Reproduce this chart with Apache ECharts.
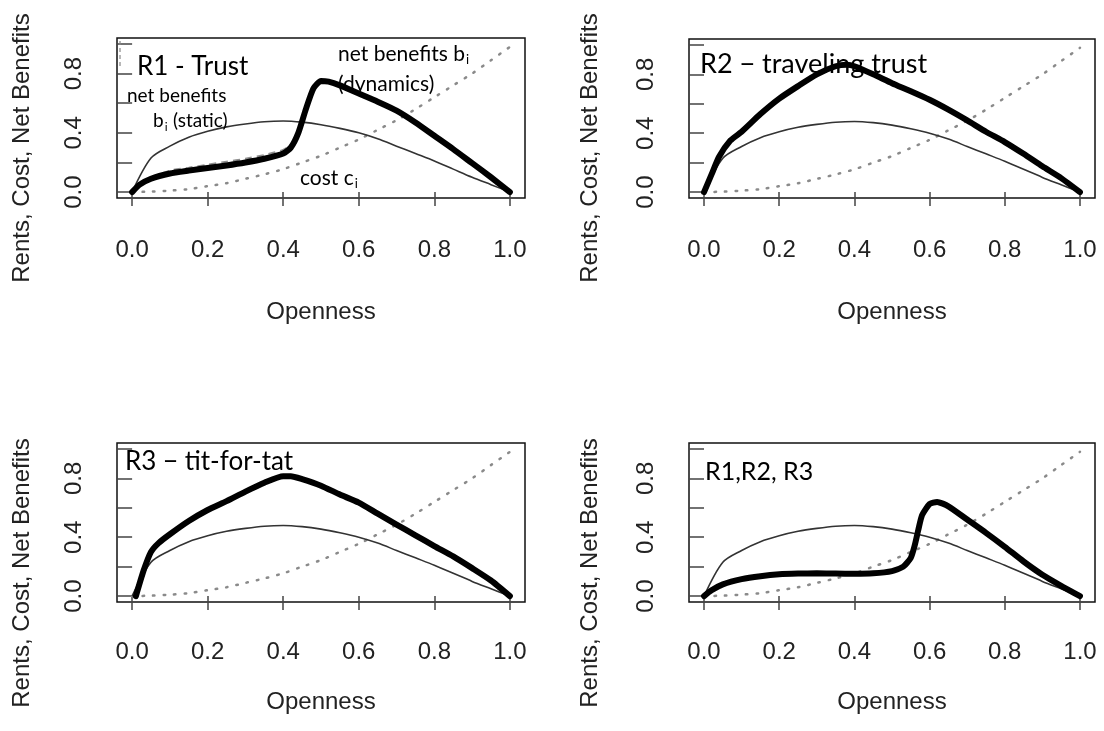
<!DOCTYPE html>
<html>
<head>
<meta charset="utf-8">
<script src="https://cdn.jsdelivr.net/npm/echarts@6/dist/echarts.min.js"></script>
<style>
  html, body { margin: 0; padding: 0; background: #ffffff; }
  #chart { width: 1104px; height: 731px; }
</style>
</head>
<body>
<div id="chart"></div>
<script>
// Openness grid shared by the static benefit and cost curves
const openness = [0, 0.05, 0.1, 0.15, 0.2, 0.25, 0.3, 0.35, 0.4, 0.45, 0.5,
                  0.55, 0.6, 0.65, 0.7, 0.75, 0.8, 0.85, 0.9, 0.95, 1.0];
// static net benefits b_i (thin solid line)
const staticBenefit = [0, 0.23, 0.31, 0.37, 0.41, 0.44, 0.46, 0.475, 0.48, 0.472, 0.455,
                       0.43, 0.40, 0.36, 0.31, 0.26, 0.21, 0.155, 0.10, 0.05, 0];
// cost c_i (dotted line)
const cost = [0, 0.003, 0.01, 0.02, 0.04, 0.06, 0.09, 0.12, 0.155, 0.2, 0.245,
              0.3, 0.355, 0.42, 0.485, 0.56, 0.64, 0.72, 0.80, 0.89, 0.98];

// R1 - Trust: dynamic net benefits
const r1X = [0, 0.02, 0.05, 0.1, 0.15, 0.2, 0.25, 0.3, 0.35, 0.4, 0.42, 0.44, 0.46, 0.48, 0.5,
             0.52, 0.55, 0.6, 0.65, 0.7, 0.75, 0.8, 0.85, 0.9, 0.95, 1.0];
const r1Y = [0, 0.05, 0.09, 0.125, 0.145, 0.163, 0.18, 0.20, 0.225, 0.26, 0.30, 0.40, 0.56, 0.70, 0.75,
             0.745, 0.72, 0.665, 0.61, 0.55, 0.47, 0.38, 0.29, 0.195, 0.10, 0];
// R1 - Trust: dashed companion curve
const r1DashX = [0.05, 0.1, 0.15, 0.2, 0.25, 0.3, 0.35, 0.4, 0.43, 0.45, 0.47, 0.49];
const r1DashY = [0.10, 0.145, 0.165, 0.185, 0.205, 0.225, 0.25, 0.285, 0.34, 0.46, 0.62, 0.73];

// R2 - traveling trust
const r2X = [0, 0.02, 0.04, 0.07, 0.1, 0.15, 0.2, 0.25, 0.3, 0.35, 0.38, 0.4, 0.45, 0.5,
             0.55, 0.6, 0.65, 0.7, 0.75, 0.8, 0.85, 0.9, 0.95, 1.0];
const r2Y = [0, 0.12, 0.24, 0.35, 0.41, 0.53, 0.635, 0.72, 0.80, 0.855, 0.865, 0.855, 0.80, 0.74,
             0.685, 0.627, 0.56, 0.487, 0.41, 0.34, 0.26, 0.175, 0.095, 0];

// R3 - tit-for-tat
const r3X = [0.01, 0.03, 0.05, 0.07, 0.1, 0.15, 0.2, 0.25, 0.3, 0.35, 0.4, 0.42, 0.45, 0.5,
             0.55, 0.6, 0.65, 0.7, 0.75, 0.8, 0.85, 0.9, 0.95, 1.0];
const r3Y = [0, 0.17, 0.30, 0.36, 0.42, 0.51, 0.585, 0.645, 0.71, 0.77, 0.815, 0.815, 0.795, 0.75,
             0.69, 0.635, 0.56, 0.486, 0.413, 0.34, 0.27, 0.19, 0.106, 0];

// R1, R2, R3 combined
const r123X = [0, 0.02, 0.05, 0.1, 0.15, 0.2, 0.25, 0.3, 0.35, 0.4, 0.45, 0.5, 0.53, 0.55, 0.56,
               0.57, 0.58, 0.6, 0.62, 0.65, 0.7, 0.75, 0.8, 0.85, 0.9, 0.95, 1.0];
const r123Y = [0, 0.04, 0.08, 0.115, 0.135, 0.148, 0.153, 0.155, 0.153, 0.152, 0.155, 0.17, 0.20, 0.26, 0.34,
               0.45, 0.55, 0.625, 0.64, 0.61, 0.52, 0.43, 0.335, 0.235, 0.145, 0.07, 0];

// axis ticks and labels
const xTicks = [0, 0.2, 0.4, 0.6, 0.8, 1.0];
const yTicks = [0, 0.2, 0.4, 0.6, 0.8, 1.0];
const yTickLabels = [0, 0.4, 0.8];
const xTitle = 'Openness';
const yTitle = 'Rents, Cost, Net Benefits';

const pairs = (xs, ys) => xs.map((x, i) => [x, ys[i]]);

const AXIS_FONT = '"Liberation Sans", Arial, Helvetica, sans-serif';
const NOTE_FONT = 'Lato, "Open Sans", sans-serif';

// plot boxes: [left, top, width, height]
const boxes = [
  [117, 38, 408, 160],
  [689, 39, 406, 159],
  [117, 443, 408, 159],
  [689, 443, 406, 159]
];
const labelMargins = [40, 40, 38, 38];
const nameGaps = [102, 102, 88, 88];

const grids = boxes.map(b => ({
  left: b[0], top: b[1], width: b[2], height: b[3],
  show: true, borderColor: '#111', borderWidth: 1.5, backgroundColor: 'transparent'
}));

const xAxes = boxes.map((b, i) => ({
  type: 'value', gridIndex: i, min: -0.04, max: 1.04,
  axisLine: { show: false },
  splitLine: { show: false },
  axisTick: { show: true, customValues: xTicks, length: 14, lineStyle: { color: '#444', width: 1.5 } },
  axisLabel: {
    customValues: xTicks, formatter: v => v.toFixed(1),
    fontFamily: AXIS_FONT, fontSize: 24, color: '#222', margin: labelMargins[i]
  },
  name: xTitle, nameLocation: 'middle', nameGap: nameGaps[i],
  nameTextStyle: { fontFamily: AXIS_FONT, fontSize: 24, color: '#222' }
}));

const yAxes = boxes.map((b, i) => ({
  type: 'value', gridIndex: i, min: -0.04, max: 1.04,
  axisLine: { show: false },
  splitLine: { show: false },
  axisTick: { show: true, customValues: yTicks, length: 15, lineStyle: { color: '#444', width: 1.5 } },
  axisLabel: {
    customValues: yTickLabels, formatter: v => v.toFixed(1), rotate: 90,
    fontFamily: AXIS_FONT, fontSize: 24, color: '#222', margin: 31
  }
}));

const panels = [r1X, r2X, r3X, r123X].map((xs, i) => [xs, [r1Y, r2Y, r3Y, r123Y][i]]);

const series = [];
panels.forEach((p, i) => {
  series.push({
    type: 'line', xAxisIndex: i, yAxisIndex: i, data: pairs(openness, cost),
    showSymbol: false, silent: true, smooth: 0.3,
    lineStyle: { color: '#8a8a8a', width: 2.5, type: [1.5, 9], cap: 'round' }
  });
  series.push({
    type: 'line', xAxisIndex: i, yAxisIndex: i, data: pairs(openness, staticBenefit),
    showSymbol: false, silent: true, smooth: 0.3,
    lineStyle: { color: '#333', width: 1.6 }
  });
  if (i === 0) {
    series.push({
      type: 'line', xAxisIndex: 0, yAxisIndex: 0, data: pairs(r1DashX, r1DashY),
      showSymbol: false, silent: true, smooth: 0.2,
      lineStyle: { color: '#8f8f8f', width: 2, type: [7, 5] }
    });
  }
  series.push({
    type: 'line', xAxisIndex: i, yAxisIndex: i, data: pairs(p[0], p[1]),
    showSymbol: false, silent: true, smooth: 0.2,
    lineStyle: { color: '#000', width: 6, cap: 'round', join: 'round' }
  });
});

// width of a string in a given font, used to place subscripts
const measureCtx = document.createElement('canvas').getContext('2d');
const textWidth = (text, font) => { measureCtx.font = font; return measureCtx.measureText(text).width; };

// text helper for annotations
const note = (text, x, y, size) => ({
  type: 'text', x: x, y: y, z: 100,
  style: { text: text, font: size + 'px ' + NOTE_FONT, fill: '#000',
           textAlign: 'left', textVerticalAlign: 'middle' }
});
// main text followed by a small lowered "i"
const noteSub = (text, x, y, size) => {
  const w = textWidth(text, size + 'px ' + NOTE_FONT);
  return [note(text, x, y, size), note('i', x + w + 1, y + size * 0.3, Math.round(size * 0.62))];
};

const yTitleAt = (x, y) => ({
  type: 'text', x: x, y: y, rotation: Math.PI / 2,
  style: { text: yTitle, font: '24px ' + AXIS_FONT, fill: '#222', textAlign: 'center', textVerticalAlign: 'middle' }
});

const graphics = [
  yTitleAt(22, 148), yTitleAt(590, 148), yTitleAt(22, 573), yTitleAt(590, 573),

  // R1 panel notes
  note('R1 - Trust', 137, 67, 26),
  note('net benefits', 127, 96, 19),
  ...noteSub('b', 153, 121, 19),
  note('(static)', 173, 121, 19),
  ...noteSub('net benefits b', 338, 54, 21),
  note('(dynamics)', 338, 84, 21),
  ...noteSub('cost c', 300, 178, 21),

  // other panels
  note('R2 \u2212 traveling trust', 700, 64, 27),
  note('R3 \u2212 tit-for-tat', 125, 462, 26),
  note('R1,R2, R3', 705, 472, 25),

  // short dashed stub along the left edge of the first box
  { type: 'line', z: 50, shape: { x1: 120, y1: 41, x2: 120, y2: 68 },
    style: { stroke: '#888', lineWidth: 1.2, lineDash: [4, 3] } }
];

const chart = echarts.init(document.getElementById('chart'), null, { renderer: 'canvas' });
chart.setOption({
  animation: false,
  backgroundColor: '#ffffff',
  grid: grids,
  xAxis: xAxes,
  yAxis: yAxes,
  series: series,
  graphic: graphics
});
</script>
</body>
</html>
